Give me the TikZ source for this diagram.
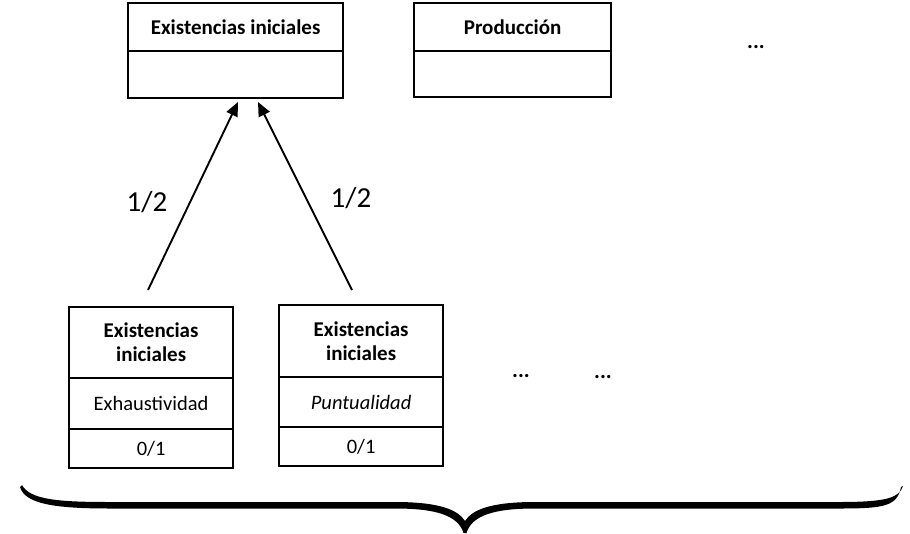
\documentclass[tikz,border=0pt]{standalone}
\usepackage{fontspec}
\setmainfont{Carlito}
\usetikzlibrary{arrows.meta}
\begin{document}
\begin{tikzpicture}[x=1pt,y=-1pt,
  cell/.style={draw, line width=2.2pt, anchor=north west, inner sep=0pt, align=center},
  ttl/.style={font=\fontsize{21}{24}\selectfont\bfseries},
  txt/.style={font=\fontsize{20.5}{24}\selectfont},
  dots/.style={font=\fontsize{22}{24}\selectfont\bfseries, inner sep=0pt},
  lbl/.style={font=\fontsize{29}{30}\selectfont, inner sep=0pt},
  conn/.style={line width=1.9pt, -{Triangle[length=14pt,width=12pt]}}
]
\useasboundingbox (0,0) rectangle (910,533);
% top boxes
\node[cell, ttl, minimum width=215pt, minimum height=48pt] (t1h) at (127,2) {Existencias iniciales};
\node[cell, minimum width=215pt, minimum height=47pt] (t1b) at (127,50) {};
\node[cell, ttl, minimum width=197pt, minimum height=48pt] (t2h) at (413,2) {Producción};
\node[cell, minimum width=197pt, minimum height=46pt] (t2b) at (413,50) {};
\node[dots] (d0) at (756,47) {...};
% bottom boxes
\node[cell, ttl, minimum width=164pt, minimum height=71pt] (a1) at (68,306) {Existencias\\iniciales};
\node[cell, txt, minimum width=164pt, minimum height=51pt] (a2) at (68,377) {Exhaustividad};
\node[cell, txt, minimum width=164pt, minimum height=39pt] (a3) at (68,428) {0/1};
\node[cell, ttl, minimum width=164pt, minimum height=72pt] (b1) at (278,304) {Existencias\\iniciales};
\node[cell, txt, minimum width=164pt, minimum height=50pt] (b2) at (278,376) {\itshape Puntualidad};
\node[cell, txt, minimum width=164pt, minimum height=39pt] (b3) at (278,426) {0/1};
\node[dots] (d1) at (521,376) {...};
\node[dots] (d2) at (603,377) {...};
% arrows
\coordinate (s1) at (148,290);
\coordinate (e1) at (238,102);
\coordinate (s2) at (352,290);
\coordinate (e2) at (258,102);
\draw[conn] (s1) -- (e1);
\draw[conn] (s2) -- (e2);
\node[lbl] (l1) at (147,202) {1/2};
\node[lbl] (l2) at (351,198) {1/2};
% brace
\fill (22,485) .. controls (30,500) and (60,502) .. (110,502) -- (395,502)
  .. controls (440,502) and (458,510) .. (465,521)
  .. controls (472,510) and (490,502) .. (535,502) -- (840,502)
  .. controls (890,502) and (899,497) .. (903,486)
  -- (901,487) .. controls (897,506) and (885,508.5) .. (840,508.5) -- (535,508.5)
  .. controls (495,508.5) and (472,515) .. (466.5,533) -- (463.5,533)
  .. controls (458,515) and (435,508.5) .. (395,508.5) -- (110,508.5)
  .. controls (55,508.5) and (25,504) .. (20,487) -- cycle;
\end{tikzpicture}
\end{document}
